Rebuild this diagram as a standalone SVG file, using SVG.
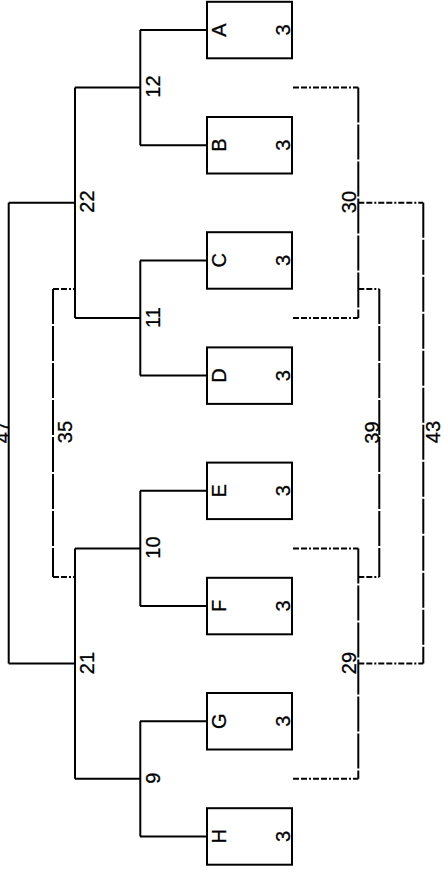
<svg xmlns="http://www.w3.org/2000/svg" width="444" height="873" viewBox="0 0 444 873">
<style>
.box{fill:#fff;stroke:#000;stroke-width:2}
.s{fill:none;stroke:#000;stroke-width:2}
.dh{fill:none;stroke:#000;stroke-width:2;stroke-dasharray:6,2,6,2,2,2}
.dv{fill:none;stroke:#000;stroke-width:2;stroke-dasharray:35,2}
text{font-family:"Liberation Sans",Arial,sans-serif;font-size:20px;fill:#000;stroke:#000;stroke-width:0.3;text-anchor:middle}
</style>
<rect width="444" height="873" fill="#fff"/>
<g id="connectors">
<path class="s" d="M140,30H206M140,145.2H206M140.3,30V145.2M75,87.6H140.3"/>
<path class="s" d="M140,260.4H206M140,375.6H206M140.3,260.4V375.6M75,318H140.3"/>
<path class="s" d="M140,490.8H206M140,606H206M140.3,490.8V606M75,548.4H140.3"/>
<path class="s" d="M140,721.2H206M140,836.4H206M140.3,721.2V836.4M75,778.8H140.3"/>
<path class="s" d="M75,87.6V318M8.7,202.8H75M75,548.4V778.8M8.7,663.6H75M8.7,202.8V663.6"/>
<path class="dh" d="M53,289H75M53,577H75"/>
<path class="dv" d="M53,289V577"/>
<path class="dh" d="M293,87.6H358.3M293,318H358.3M358.3,202.8H423.3M358.3,289H379.3M358.3,577H379.3M293,548.4H358.3M293,778.8H358.3M358.3,663.6H423.3"/>
<path class="dv" d="M358.3,87.6V318M379.3,289V577M358.3,548.4V778.8M423.3,202.8V663.6"/>
</g>
<g id="A"><rect class="box" x="207" y="1.8" width="85" height="56.5"/><text transform="translate(226,30) rotate(-90)">A</text><text transform="translate(289.5,30) rotate(-90)">3</text></g>
<g id="B"><rect class="box" x="207" y="117" width="85" height="56.5"/><text transform="translate(226,145.2) rotate(-90)">B</text><text transform="translate(289.5,145.2) rotate(-90)">3</text></g>
<g id="C"><rect class="box" x="207" y="232.2" width="85" height="56.5"/><text transform="translate(226,260.4) rotate(-90)">C</text><text transform="translate(289.5,260.4) rotate(-90)">3</text></g>
<g id="D"><rect class="box" x="207" y="347.4" width="85" height="56.5"/><text transform="translate(226,375.6) rotate(-90)">D</text><text transform="translate(289.5,375.6) rotate(-90)">3</text></g>
<g id="E"><rect class="box" x="207" y="462.6" width="85" height="56.5"/><text transform="translate(226,490.8) rotate(-90)">E</text><text transform="translate(289.5,490.8) rotate(-90)">3</text></g>
<g id="F"><rect class="box" x="207" y="577.8" width="85" height="56.5"/><text transform="translate(226,606) rotate(-90)">F</text><text transform="translate(289.5,606) rotate(-90)">3</text></g>
<g id="G"><rect class="box" x="207" y="693" width="85" height="56.5"/><text transform="translate(226,721.2) rotate(-90)">G</text><text transform="translate(289.5,721.2) rotate(-90)">3</text></g>
<g id="H"><rect class="box" x="207" y="808.2" width="85" height="56.5"/><text transform="translate(226,836.4) rotate(-90)">H</text><text transform="translate(289.5,836.4) rotate(-90)">3</text></g>
<g id="n12"><text transform="translate(159.5,86.5) rotate(-90)">12</text></g>
<g id="n11"><text transform="translate(159.5,317.5) rotate(-90)">11</text></g>
<g id="n10"><text transform="translate(159.5,547.5) rotate(-90)">10</text></g>
<g id="n9"><text transform="translate(159.5,778.3) rotate(-90)">9</text></g>
<g id="n22"><text transform="translate(93.5,201.5) rotate(-90)">22</text></g>
<g id="n21"><text transform="translate(93.5,663) rotate(-90)">21</text></g>
<g id="n47"><text transform="translate(8.5,432) rotate(-90)">47</text></g>
<g id="n35"><text transform="translate(72,432) rotate(-90)">35</text></g>
<g id="n30"><text transform="translate(355.5,202) rotate(-90)">30</text></g>
<g id="n29"><text transform="translate(356,663) rotate(-90)">29</text></g>
<g id="n39"><text transform="translate(378.5,432.5) rotate(-90)">39</text></g>
<g id="n43"><text transform="translate(439.5,432) rotate(-90)">43</text></g>
</svg>
